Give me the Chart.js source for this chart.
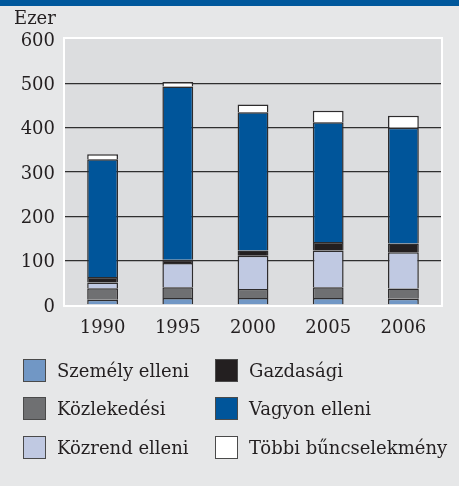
<!DOCTYPE html>
<html>
<head>
<meta charset="utf-8">
<script src="https://cdn.jsdelivr.net/npm/chart.js@4/dist/chart.umd.min.js"></script>
<style>
  html, body { margin: 0; padding: 0; }
  body { width: 459px; height: 486px; background: #e6e7e8; position: relative; overflow: hidden;
         font-family: "DejaVu Serif", serif; color: #231f20; }
  #strip { position: absolute; left: 0; top: 0; width: 459px; height: 6px; background: #00589c; z-index: 2; }
  #c { position: absolute; left: 0; top: 0; }
  #unit { position: absolute; left: 14px; top: 6px; font-size: 18px; line-height: 24px; }
  .item { position: absolute; height: 23px; display: flex; align-items: center; font-size: 18px; white-space: nowrap; }
  .box { width: 21px; height: 21px; border: 1px solid #4a4a4a; margin-right: 11px; flex: none; }
</style>
</head>
<body>
<div id="strip"></div>
<canvas id="c" width="459" height="486"></canvas>
<div id="unit">Ezer</div>
<div id="legend"></div>
<script>
const categories = ['1990', '1995', '2000', '2005', '2006'];
const unitLabel = 'Ezer';
const yTicks = [0, 100, 200, 300, 400, 500, 600];

const seriesNames = ['Személy elleni', 'Közlekedési', 'Közrend elleni', 'Gazdasági', 'Vagyon elleni', 'Többi bűncselekmény'];
const szemelyElleni   = [12, 16, 16, 16, 14];
const kozlekedesi     = [26, 24, 20, 24, 23];
const kozrendElleni   = [13, 55, 75, 83, 82];
const gazdasagi       = [12, 7, 12, 19, 20];
const vagyonElleni    = [266, 391, 312, 270, 261];
const tobbi           = [11, 10, 17, 26, 27];

const seriesValues = [szemelyElleni, kozlekedesi, kozrendElleni, gazdasagi, vagyonElleni, tobbi];
const seriesColors = ['#7197c5', '#6f7072', '#c0c9e2', '#231f20', '#00559a', '#ffffff'];

const plotBg = {
  id: 'plotBg',
  beforeDraw(chart) {
    const a = chart.chartArea, ctx = chart.ctx;
    ctx.save();
    ctx.fillStyle = '#dcdddf';
    ctx.fillRect(a.left, a.top, a.right - a.left, a.bottom - a.top);
    ctx.strokeStyle = '#ffffff';
    ctx.lineWidth = 2;
    ctx.strokeRect(a.left - 1, a.top - 1, a.right - a.left + 2, a.bottom - a.top + 2);
    ctx.restore();
  }
};

new Chart(document.getElementById('c'), {
  type: 'bar',
  data: {
    labels: categories,
    datasets: seriesNames.map((n, i) => ({
      label: n,
      data: seriesValues[i],
      backgroundColor: seriesColors[i],
      borderColor: '#2e2c2d',
      borderWidth: 1.5,
      barPercentage: 0.41,
      categoryPercentage: 1.0
    }))
  },
  options: {
    responsive: false,
    devicePixelRatio: 1,
    animation: false,
    layout: { padding: { left: 8, top: 39, right: 18, bottom: 141 } },
    plugins: { legend: { display: false }, tooltip: { enabled: false }, title: { display: false } },
    scales: {
      x: {
        stacked: true,
        grid: { display: false, drawTicks: false },
        border: { display: false },
        ticks: { color: '#231f20', font: { family: 'DejaVu Serif', size: 18 }, padding: 13 },
        afterFit(s) { s.height = 40; }
      },
      y: {
        stacked: true,
        min: 0, max: 600,
        afterBuildTicks(s) { s.ticks = yTicks.map(v => ({ value: v })); },
        grid: {
          drawTicks: false,
          color: ctx => (ctx.tick && (ctx.tick.value === 0 || ctx.tick.value === 600)) ? 'rgba(0,0,0,0)' : '#2f2f2f',
          lineWidth: 1.3
        },
        border: { display: false },
        ticks: { color: '#231f20', font: { family: 'DejaVu Serif', size: 18 }, padding: 10, labelOffset: 2 },
        afterFit(s) { s.width = 57; }
      }
    }
  },
  plugins: [plotBg]
});

document.getElementById('unit').textContent = unitLabel;
const legend = document.getElementById('legend');
const order = [0, 1, 2, 3, 4, 5];
order.forEach((idx, k) => {
  const col = Math.floor(k / 3), row = k % 3;
  const it = document.createElement('div');
  it.className = 'item';
  it.style.left = (col === 0 ? 23 : 215) + 'px';
  it.style.top = (359 + row * 38.4) + 'px';
  const b = document.createElement('span');
  b.className = 'box';
  b.style.background = seriesColors[idx];
  const t = document.createElement('span');
  t.textContent = seriesNames[idx];
  it.appendChild(b); it.appendChild(t);
  legend.appendChild(it);
});
</script>
</body>
</html>
